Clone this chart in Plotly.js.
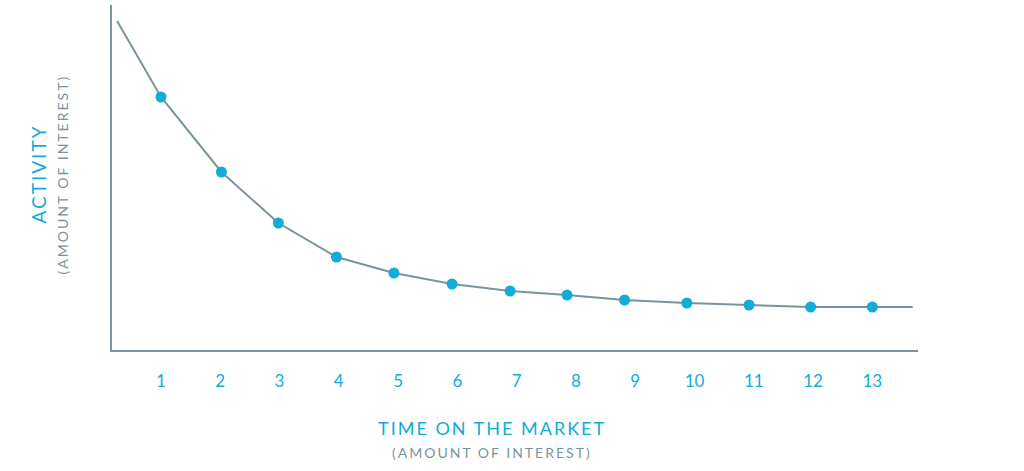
<!DOCTYPE html>
<html>
<head>
<meta charset="utf-8">
<script src="https://cdn.plot.ly/plotly-3.0.1.min.js"></script>
<style>
  html, body { margin: 0; padding: 0; background: #fff; }
  #chart { width: 1024px; height: 471px; }
  .annotation-text { letter-spacing: 2px; }
</style>
</head>
<body>
<div id="chart"></div>
<script>
// Time on the market (position on x axis)
const timePoints = [1, 2.02, 2.98, 3.96, 4.93, 5.91, 6.89, 7.85, 8.82, 9.87, 10.92, 11.96, 13.0];
// Activity (amount of interest), arbitrary units
const activity = [253, 178, 127, 93, 77, 66, 59, 55, 50, 47, 45, 43, 43];
// curve end-points (line continues beyond first/last marker)
const curveStart = {x: 0.26, y: 329};
const curveEnd = {x: 13.68, y: 43};
const tickValues = [1, 2, 3, 4, 5, 6, 7, 8, 9, 10, 11, 12, 13];
const tickLabels = ['1', '2', '3', '4', '5', '6', '7', '8', '9', '10', '11', '12', '13'];

const lineColor = '#7b949b';
const blue = '#13acd9';

const lineX = [curveStart.x].concat(timePoints, [curveEnd.x]);
const lineY = [curveStart.y].concat(activity, [curveEnd.y]);

const traces = [
  {
    x: lineX, y: lineY, mode: 'lines', type: 'scatter',
    line: {color: lineColor, width: 2}, hoverinfo: 'skip'
  },
  {
    x: timePoints, y: activity, mode: 'markers', type: 'scatter',
    marker: {color: blue, size: 11}
  }
];

const layout = {
  width: 1024, height: 471,
  margin: {l: 112, r: 106, t: 5, b: 121},
  paper_bgcolor: '#ffffff', plot_bgcolor: '#ffffff',
  showlegend: false,
  font: {family: 'Lato, sans-serif'},
  xaxis: {
    range: [0.174, 13.77], showgrid: false, zeroline: false,
    showline: true, linecolor: lineColor, linewidth: 2,
    tickvals: tickValues, ticktext: tickLabels,
    ticks: 'outside', ticklen: 15, tickcolor: 'rgba(0,0,0,0)',
    tickfont: {color: blue, size: 17, family: 'Lato, sans-serif'}
  },
  yaxis: {
    range: [0, 345], showgrid: false, zeroline: false,
    showline: true, linecolor: lineColor, linewidth: 2,
    showticklabels: false, ticks: ''
  },
  annotations: [
    {text: 'TIME ON THE MARKET', xref: 'paper', yref: 'paper', x: 0.472, y: 0, yshift: -78,
     showarrow: false, xanchor: 'center', yanchor: 'middle',
     font: {color: blue, size: 18, family: 'Lato, sans-serif'}},
    {text: '(AMOUNT OF INTEREST)', xref: 'paper', yref: 'paper', x: 0.472, y: 0, yshift: -102,
     showarrow: false, xanchor: 'center', yanchor: 'middle',
     font: {color: lineColor, size: 14, family: 'Lato, sans-serif'}},
    {text: 'ACTIVITY', xref: 'paper', yref: 'paper', x: 0, xshift: -74, y: 0.5, yshift: 3,
     showarrow: false, textangle: -90, xanchor: 'center', yanchor: 'middle',
     font: {color: blue, size: 19, family: 'Lato, sans-serif'}},
    {text: '(AMOUNT OF INTEREST)', xref: 'paper', yref: 'paper', x: 0, xshift: -50, y: 0.5, yshift: 3,
     showarrow: false, textangle: -90, xanchor: 'center', yanchor: 'middle',
     font: {color: lineColor, size: 14, family: 'Lato, sans-serif'}}
  ]
};

Plotly.newPlot('chart', traces, layout, {displayModeBar: false, staticPlot: true});
</script>
</body>
</html>
